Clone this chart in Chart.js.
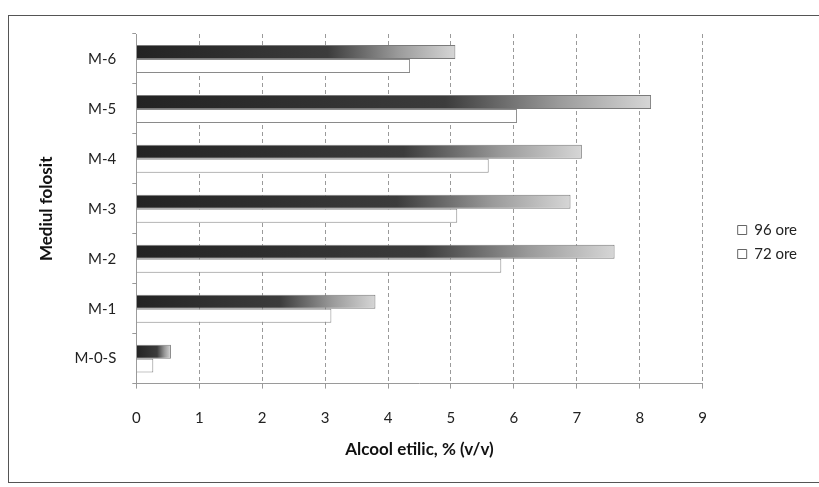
<!DOCTYPE html>
<html>
<head>
<meta charset="utf-8">
<script src="https://cdn.jsdelivr.net/npm/chart.js@4"></script>
<style>
  html, body { margin: 0; padding: 0; background: #fff; }
  #wrap { width: 819px; height: 487px; position: relative; }
</style>
</head>
<body>
<div id="wrap"><canvas id="barChart" width="819" height="487"></canvas></div>
<script>
// categories, bottom to top as in the picture
const categories = ["M-0-S", "M-1", "M-2", "M-3", "M-4", "M-5", "M-6"];
const ore96 = [0.55, 3.8, 7.6, 6.9, 7.08, 8.18, 5.07];
const ore72 = [0.27, 3.1, 5.8, 5.1, 5.6, 6.05, 4.35];
const xTicks = [0, 1, 2, 3, 4, 5, 6, 7, 8, 9];

const FONT = "Lato, 'Open Sans', sans-serif";

// gradient for the 96 ore bars, dark at the base, light at the tip
function barGradient(ctx) {
    const chart = ctx.chart;
    if (!chart.chartArea) return "#444";
    const xs = chart.scales.x;
    const x0 = xs.getPixelForValue(0);
    const x1 = xs.getPixelForValue(ctx.raw);
    const g = chart.ctx.createLinearGradient(x0, 0, Math.max(x1, x0 + 1), 0);
    g.addColorStop(0, "#232323");
    g.addColorStop(0.6, "#3c3c3c");
    g.addColorStop(0.82, "#9a9a9a");
    g.addColorStop(1, "#d6d6d6");
    return g;
}

// thin frame round the whole chart
const framePlugin = {
    id: "frame",
    afterDraw(chart) {
        const c = chart.ctx;
        c.save();
        c.strokeStyle = "#555";
        c.lineWidth = 1;
        c.strokeRect(8.5, 15.5, 830, 467);
        c.restore();
    }
};

// nudge the legend a little away from the plot, like in the original
const legendNudge = {
    id: "legendNudge",
    afterLayout(chart) {
        const lg = chart.legend;
        const dx = 26, dy = -5;
        lg.left += dx; lg.right += dx;
        lg.top += dy; lg.bottom += dy;
    }
};

const ctx = document.getElementById("barChart").getContext("2d");
new Chart(ctx, {
    type: "bar",
    data: {
        labels: categories,
        datasets: [
            {
                label: "96 ore",
                data: ore96,
                backgroundColor: barGradient,
                borderColor: "#7a7a7a",
                borderWidth: 1
            },
            {
                label: "72 ore",
                data: ore72,
                backgroundColor: "#ffffff",
                borderColor: "#8a8a8a",
                borderWidth: 1
            }
        ]
    },
    options: {
        indexAxis: "y",
        responsive: false,
        animation: false,
        layout: { padding: { left: 36, right: 38, top: 34, bottom: 27 } },
        datasets: {
            bar: { categoryPercentage: 0.56, barPercentage: 1.0 }
        },
        scales: {
            x: {
                min: 0,
                max: 9,
                afterBuildTicks: (axis) => { axis.ticks = xTicks.map(v => ({ value: v })); },
                grid: { color: "#9a9a9a", drawTicks: true, tickLength: 5 },
                border: { display: true, color: "#9a9a9a", dash: [4, 3] },
                ticks: { color: "#222", padding: 21, font: { family: FONT, size: 15 } },
                title: {
                    display: true,
                    text: "Alcool etilic, % (v/v)",
                    color: "#111",
                    padding: { top: -9, bottom: 0 },
                    font: { family: FONT, size: 17, weight: "bold" }
                }
            },
            y: {
                reverse: true,
                grid: { display: true, drawOnChartArea: false, drawTicks: true, tickLength: 4, tickColor: "#999" },
                border: { display: true, color: "#9a9a9a" },
                ticks: { color: "#222", padding: 16, font: { family: FONT, size: 15 } },
                title: {
                    display: true,
                    text: "Mediul folosit",
                    color: "#111",
                    padding: { top: 0, bottom: 2 },
                    font: { family: FONT, size: 17, weight: "bold" }
                }
            }
        },
        plugins: {
            legend: {
                position: "right",
                labels: {
                    color: "#222",
                    boxWidth: 9,
                    boxHeight: 9,
                    padding: 9,
                    font: { family: FONT, size: 15 },
                    generateLabels: (chart) => chart.data.datasets.map((ds, i) => ({
                        text: ds.label,
                        fillStyle: "#ffffff",
                        strokeStyle: "#666",
                        lineWidth: 1,
                        datasetIndex: i,
                        fontColor: "#222"
                    }))
                }
            },
            tooltip: { enabled: false }
        }
    },
    plugins: [framePlugin, legendNudge]
});
</script>
</body>
</html>
